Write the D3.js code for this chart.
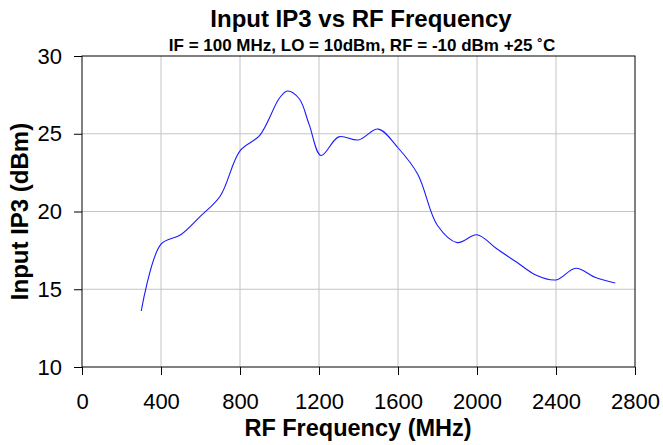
<!DOCTYPE html>
<html><head><meta charset="utf-8">
<script src="https://cdn.jsdelivr.net/npm/d3@7"></script>
<style>body{margin:0;background:#fff;} text{font-family:"Liberation Sans",Arial,sans-serif;}</style>
</head><body><svg id="c" width="663" height="445"></svg>
<script>
const freqs = [300,400,500,600,700,800,900,1000,1040,1100,1150,1210,1300,1400,1500,1600,1700,1800,1900,2000,2100,2200,2300,2400,2500,2600,2700];
const ip3 = [13.6,17.9,18.5,19.7,21.0,23.9,24.9,27.3,27.75,27.25,25.6,23.6,24.8,24.6,25.3,24.1,22.4,19.1,18.0,18.5,17.6,16.75,15.9,15.6,16.35,15.75,15.4];
const xTicks = [0,400,800,1200,1600,2000,2400,2800];
const yTicks = [10,15,20,25,30];

const svg = d3.select("#c");
const m = {l:82, r:635, t:56, b:367};
const x = d3.scaleLinear().domain([0,2800]).range([m.l,m.r]);
const y = d3.scaleLinear().domain([10,30]).range([m.b,m.t]);
const FONT = "Liberation Sans, Arial, sans-serif";

// grid
svg.append("g").selectAll("line").data(xTicks.slice(1,-1)).join("line")
  .attr("x1",d=>x(d)).attr("x2",d=>x(d)).attr("y1",m.t).attr("y2",m.b)
  .attr("stroke","#c4c4c4").attr("stroke-width",1);
svg.append("g").selectAll("line").data(yTicks.slice(1,-1)).join("line")
  .attr("y1",d=>y(d)).attr("y2",d=>y(d)).attr("x1",m.l).attr("x2",m.r)
  .attr("stroke","#c4c4c4").attr("stroke-width",1);

svg.append("rect").attr("x",m.l).attr("y",m.t).attr("width",m.r-m.l).attr("height",m.b-m.t)
  .attr("fill","none").attr("stroke","#000").attr("stroke-width",1);

const xa = svg.append("g").attr("transform",`translate(0,${m.b})`)
  .call(d3.axisBottom(x).tickValues(xTicks).tickSize(8).tickPadding(18).tickFormat(d3.format("d")));
xa.select(".domain").remove();
xa.selectAll("text").attr("font-size",22).attr("fill","#000").style("font-family",FONT);
const ya = svg.append("g").attr("transform",`translate(${m.l},0)`)
  .call(d3.axisLeft(y).tickValues(yTicks).tickSize(8).tickPadding(12));
ya.select(".domain").remove();
ya.selectAll("text").attr("font-size",22).attr("fill","#000").style("font-family",FONT);

const line = d3.line().x((d,i)=>x(freqs[i])).y(d=>y(d)).curve(d3.curveCatmullRom.alpha(0.5));
svg.append("path").datum(ip3).attr("d",line).attr("fill","none").attr("stroke","#1a1aff").attr("stroke-width",1.1);

svg.append("text").attr("x",361).attr("y",26.5).attr("text-anchor","middle").attr("font-size",24).attr("font-weight","bold").text("Input IP3 vs RF Frequency");
svg.append("text").attr("x",362).attr("y",51).attr("text-anchor","middle").attr("font-size",17).attr("font-weight","bold").text("IF = 100 MHz, LO = 10dBm, RF = -10 dBm +25 ˚C");
svg.append("text").attr("x",358).attr("y",436).attr("text-anchor","middle").attr("font-size",23.5).attr("font-weight","bold").text("RF Frequency (MHz)");
svg.append("text").attr("transform","translate(28,211.5) rotate(-90)").attr("text-anchor","middle").attr("font-size",24).attr("font-weight","bold").text("Input IP3 (dBm)");
</script></body></html>
